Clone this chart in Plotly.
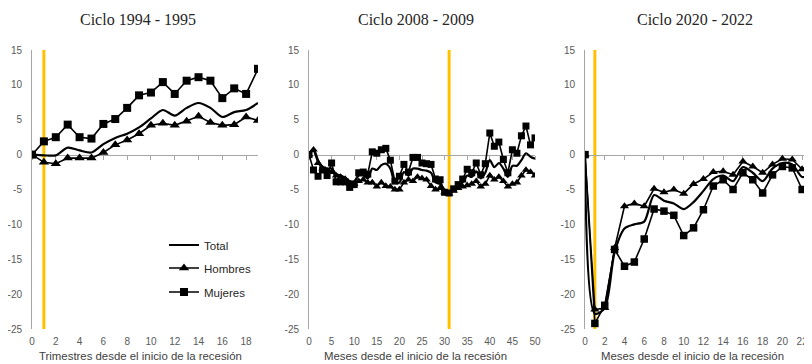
import plotly.graph_objects as go

# ---------------- DATA ----------------
titles = ["Ciclo 1994 - 1995", "Ciclo 2008 - 2009", "Ciclo 2020 - 2022"]
x_titles = ["Trimestres desde el inicio de la recesión",
            "Meses desde el inicio de la recesión",
            "Meses desde el inicio de la recesión"]
series_names = ["Total", "Hombres", "Mujeres"]

# Ciclo 1994-1995 (trimestres)
t_1994 = list(range(20))
total_1994 = [0, -0.1, -0.1, 1.0, 0.6, 0.3, 1.5, 2.4, 3.0, 3.9, 5.2, 6.4, 5.6, 6.7, 7.4, 6.7, 5.4, 6.1, 6.4, 7.4]
hombres_1994 = [0, -1.1, -1.3, -0.5, -0.5, -0.5, 0.3, 1.4, 2.1, 3.0, 4.2, 4.5, 4.2, 4.8, 5.5, 4.6, 4.2, 4.3, 5.4, 4.9]
mujeres_1994 = [0, 1.9, 2.5, 4.3, 2.5, 2.3, 4.4, 5.1, 6.7, 8.5, 8.9, 10.4, 8.7, 10.6, 11.1, 10.6, 8.1, 9.5, 8.7, 12.3]

# Ciclo 2008-2009 (meses)
t_2008 = list(range(51))
total_2008 = [0, 0.8, -0.8, -1.8, -2.0, -2.0, -2.8, -3.0, -3.3, -3.8, -3.8, -3.0, -3.0, -3.4, -2.0, -2.2,
              -1.5, -1.3, -2.0, -4.0, -4.0, -2.5, -3.0, -2.0, -2.0, -2.2, -2.3, -2.6, -4.0, -4.2, -5.0,
              -5.5, -4.8, -4.4, -4.0, -3.0, -3.2, -2.4, -3.4, -2.6, -0.8, -1.8, -1.2, -2.0, -3.2, -1.6,
              -1.6, -0.8, 0.2, -0.3, -0.6]
hombres_2008 = [0, 0.7, -1.2, -2.0, -2.3, -2.5, -3.0, -3.2, -3.5, -4.2, -4.2, -3.8, -3.6, -4.0, -4.0, -4.6,
                -4.0, -4.5, -4.6, -5.0, -5.0, -4.0, -3.6, -3.8, -3.2, -3.4, -3.6, -4.5, -5.0, -4.8, -5.4,
                -5.6, -5.2, -4.8, -4.6, -4.4, -4.2, -3.8, -4.6, -4.2, -3.0, -3.6, -3.2, -3.8, -4.6, -4.2,
                -4.0, -3.0, -2.2, -2.5, -3.0]
mujeres_2008 = [0, -2.2, -3.1, -2.2, -3.0, -1.2, -3.9, -3.9, -3.9, -4.7, -4.3, -2.6, -2.5, -2.8, 0.4, 0.2,
                0.7, 0.9, -0.8, -3.8, -3.1, -1.4, -2.5, -0.4, -0.4, -1.2, -1.3, -1.4, -3.5, -3.6, -5.4,
                -5.5, -4.9, -4.3, -3.5, -2.1, -2.6, -1.2, -2.9, -1.3, 3.1, 1.2, 1.8, -0.7, -2.6, 0.7,
                0.2, 2.7, 4.1, 1.4, 2.4]

# Ciclo 2020-2022 (meses)
t_2020 = list(range(24))
total_2020 = [0, -22.8, -22.0, -14.0, -10.6, -10.0, -9.6, -5.8, -6.6, -7.0, -7.8, -6.8, -5.2, -3.5, -3.0, -3.8,
              -1.8, -2.6, -3.8, -2.0, -1.2, -1.4, -3.2, -2.8]
hombres_2020 = [0, -22.2, -22.0, -13.4, -7.4, -7.0, -7.4, -4.9, -5.4, -5.0, -5.6, -4.2, -3.5, -2.5, -2.4, -2.9,
                -1.0, -1.7, -2.6, -1.4, -0.6, -0.7, -2.1, -1.2]
mujeres_2020 = [0, -24.2, -21.6, -13.6, -16.0, -15.4, -12.1, -7.8, -8.1, -8.7, -11.6, -10.5, -7.9, -4.5, -3.6,
                -5.0, -2.6, -3.6, -5.5, -2.9, -1.7, -1.9, -5.0, -4.5]

recession_marker = [1, 31, 1]
x_ranges = [[0, 19], [0, 50], [0, 23]]
x_ticks = [list(range(0, 19, 2)), list(range(0, 51, 5)), list(range(0, 23, 2))]
y_ticks = [15, 10, 5, 0, -5, -10, -15, -20, -25]
y_range = [-25, 15]

panels = [
    (t_1994, total_1994, hombres_1994, mujeres_1994),
    (t_2008, total_2008, hombres_2008, mujeres_2008),
    (t_2020, total_2020, hombres_2020, mujeres_2020),
]

# ---------------- LAYOUT GEOMETRY ----------------
# page body has an 8px margin, so the figure is placed at (8, 8) in the 812x364 window
OFF = 8
W, H = 812 - OFF, 364 - OFF


def fx(p):
    return (p - OFF) / W


def fy(p):
    return 1 - (p - OFF) / H


x_dom_px = [(32, 258), (309, 535), (585, 812)]
y_top_px, y_bot_px = 50, 329
ydom = [fy(y_bot_px), fy(y_top_px)]
zero_pos = ydom[0] + (0 - y_range[0]) / (y_range[1] - y_range[0]) * (ydom[1] - ydom[0])
title_cx = [138, 416, 695]
xtitle_cx = [140, 415, 692]

marker_sizes = [(9, 8), (7.5, 7), (8, 7.5)]
axis_grey = "#a6a6a6"
sans = "Liberation Sans, Arial, sans-serif"
tick_font = dict(family=sans, size=10, color="#595959")

fig = go.Figure()
layout = {}
for i, (t, tot, hom, muj) in enumerate(panels):
    n = "" if i == 0 else str(i + 1)
    xa, ya = "x" + n, "y" + n
    tri, sq = marker_sizes[i]
    fig.add_trace(go.Scatter(x=t, y=muj, xaxis=xa, yaxis=ya, name=series_names[2], mode="lines+markers",
                             line=dict(color="black", width=1.6),
                             marker=dict(symbol="square", size=sq, color="black"),
                             showlegend=(i == 0), legend="legend3", hoverinfo="skip"))
    fig.add_trace(go.Scatter(x=t, y=hom, xaxis=xa, yaxis=ya, name=series_names[1], mode="lines+markers",
                             line=dict(color="black", width=1.6),
                             marker=dict(symbol="triangle-up", size=tri, color="black"),
                             showlegend=(i == 0), legend="legend2", hoverinfo="skip"))
    fig.add_trace(go.Scatter(x=t, y=tot, xaxis=xa, yaxis=ya, name=series_names[0], mode="lines",
                             line=dict(color="black", width=2.2, shape="spline", smoothing=0.8),
                             showlegend=(i == 0), legend="legend", hoverinfo="skip"))
    # helper trace for the zero-line tick axis
    k = str(i + 4)
    fig.add_trace(go.Scatter(x=x_ticks[i], y=[0] * len(x_ticks[i]), xaxis="x" + k, yaxis=ya,
                             mode="markers", marker=dict(opacity=0), showlegend=False, hoverinfo="skip"))

    dom = [fx(x_dom_px[i][0]), min(1.0, fx(x_dom_px[i][1]))]
    layout["xaxis" + n] = dict(domain=dom, range=x_ranges[i], anchor=ya, tickvals=x_ticks[i],
                               showline=False, showgrid=False, zeroline=False, ticks="",
                               tickfont=tick_font, ticklabelstandoff=5, automargin=False)
    layout["xaxis" + k] = dict(overlaying=xa, anchor="free", position=zero_pos, range=x_ranges[i],
                               tickvals=x_ticks[i], showticklabels=False, showline=True,
                               linecolor=axis_grey, linewidth=1, ticks="outside", ticklen=4,
                               tickcolor=axis_grey, showgrid=False, zeroline=False, layer="below traces",
                               automargin=False)
    layout["yaxis" + n] = dict(domain=ydom, range=y_range, anchor=xa, tickvals=y_ticks,
                               ticktext=[str(v) for v in y_ticks], showline=True, linecolor=axis_grey,
                               linewidth=1, showgrid=False, zeroline=False, ticks="",
                               tickfont=tick_font, ticklabelstandoff=7, layer="below traces",
                               automargin=False)

shapes = []
for i, xm in enumerate(recession_marker):
    n = "" if i == 0 else str(i + 1)
    shapes.append(dict(type="line", xref="x" + n, yref="y" + n, x0=xm, x1=xm, y0=y_range[0], y1=y_range[1],
                       line=dict(color="#FFC000", width=3), layer="below"))

annotations = []
for i in range(3):
    annotations.append(dict(text=titles[i], xref="paper", yref="paper", x=fx(title_cx[i]), y=fy(20),
                            xanchor="center", yanchor="middle", showarrow=False,
                            font=dict(family="Liberation Serif, Times New Roman, serif", size=16, color="#262626")))
    annotations.append(dict(text=x_titles[i], xref="paper", yref="paper", x=fx(xtitle_cx[i]), y=fy(356),
                            xanchor="center", yanchor="middle", showarrow=False,
                            font=dict(family=sans, size=11.4, color="#404040")))

leg_font = dict(family=sans, size=11.5, color="#262626")
leg_common = dict(x=fx(164), xanchor="left", yanchor="middle", bgcolor="rgba(0,0,0,0)", font=leg_font,
                  itemwidth=30)

fig.update_layout(
    width=W, height=H, margin=dict(l=0, r=0, t=0, b=0, autoexpand=False),
    paper_bgcolor="white", plot_bgcolor="white",
    shapes=shapes, annotations=annotations,
    legend=dict(y=fy(245), **leg_common),
    legend2=dict(y=fy(268), **leg_common),
    legend3=dict(y=fy(292), **leg_common),
    **layout,
)

fig.write_html("out.html")
